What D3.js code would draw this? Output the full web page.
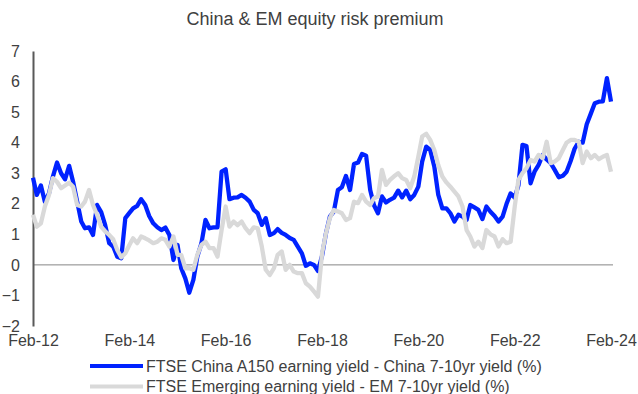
<!DOCTYPE html>
<html>
<head>
<meta charset="utf-8">
<script src="https://cdn.jsdelivr.net/npm/d3@7"></script>
<style>
  html, body { margin: 0; padding: 0; background: #fff; }
  svg { display: block; }
  text { font-family: "Liberation Sans", Arial, sans-serif; }
</style>
</head>
<body>
<svg id="chart" width="638" height="394"></svg>
<script>
// Monthly observations, Feb-2012 through Feb-2024
const startMonth = new Date(2012, 1, 1);

const chinaPremium = [
  2.85, 2.29, 2.6, 2.07, 2.34, 2.89, 3.35, 3.0, 2.8, 3.24,
  2.72, 2.07, 1.42, 1.2, 1.23, 0.98, 1.96, 1.74, 1.31, 0.71,
  0.6, 0.27, 0.22, 1.53, 1.7, 1.85, 1.93, 2.15, 1.96, 1.6,
  1.36, 1.23, 1.14, 1.22, 0.98, 0.16, 0.65, -0.11, -0.44, -0.91,
  -0.49, 0.27, 0.7, 1.47, 1.2, 1.23, 1.23, 3.05, 3.13, 2.15,
  2.2, 2.21, 2.29, 2.2, 2.07, 1.8, 1.69, 1.31, 1.53, 0.98,
  1.04, 1.17, 1.05, 0.98, 0.88, 0.82, 0.6, 0.38, -0.03, 0.05,
  0.0, -0.2, 0.3, 1.0, 1.58, 1.74, 2.45, 2.54, 2.91, 2.45,
  3.3, 3.35, 3.63, 3.57, 2.45, 1.96, 1.69, 2.24, 2.04, 2.13,
  2.2, 2.43, 2.21, 2.43, 2.15, 2.29, 2.56, 3.38, 3.87, 3.76,
  3.22, 2.3, 1.85, 1.85, 1.69, 1.42, 1.64, 1.58, 1.47, 1.96,
  1.88, 1.8, 1.5, 1.91, 1.74, 1.6, 1.42, 1.58, 2.0, 2.34,
  2.2, 2.6, 3.93, 3.89, 2.67, 3.05, 3.27, 3.6, 3.45, 3.33,
  3.11, 2.87, 2.92, 3.05, 3.4, 3.8, 4.03, 4.0, 4.6, 4.95,
  5.29, 5.34, 5.35, 6.11, 5.34
];

const emPremium = [
  1.64, 1.25, 1.36, 1.91, 2.29, 2.84, 2.72, 2.51, 2.6, 2.69,
  2.56, 1.96, 1.91, 2.07, 2.45, 1.96, 1.64, 1.25, 1.1, 0.98,
  0.84, 0.49, 0.25, 0.38, 0.65, 0.87, 0.71, 0.93, 0.87, 0.8,
  0.71, 0.76, 0.87, 0.82, 0.6, 0.93, 0.33, 0.33, -0.11, -0.11,
  -0.16, 0.33, 0.65, 0.76, 0.55, 0.55, 0.27, 1.14, 1.91, 1.25,
  1.42, 1.3, 1.42, 1.2, 1.04, 1.23, 1.2, 0.6, -0.16, -0.33,
  -0.11, 0.33, 0.44, -0.16, 0.0, -0.22, -0.27, -0.27, -0.6, -0.71,
  -0.87, -1.04, 0.38, 1.0, 1.53, 1.8, 1.75, 1.69, 1.47, 1.53,
  2.07, 2.02, 2.29, 2.07, 1.96, 2.18, 2.24, 3.11, 2.62, 2.78,
  2.9, 3.0, 2.84, 2.78, 2.51, 2.89, 3.54, 4.2, 4.29, 4.09,
  3.76, 3.27, 2.89, 2.7, 2.56, 2.4, 2.24, 1.91, 1.14, 0.93,
  0.6, 0.76, 0.55, 1.14, 1.0, 0.93, 0.6, 0.84, 0.71, 0.76,
  1.91, 2.78, 3.0, 3.16, 3.43, 3.38, 3.6, 3.49, 4.03, 3.33,
  3.38, 3.49, 3.76, 4.0, 4.09, 4.09, 4.03, 3.33, 3.71, 3.49,
  3.6, 3.46, 3.54, 3.6, 3.05
];

const yTicks = [-2, -1, 0, 1, 2, 3, 4, 5, 6, 7];
const xTickYears = [2012, 2014, 2016, 2018, 2020, 2022, 2024];

const seriesNames = [
  "FTSE China A150 earning yield - China 7-10yr yield (%)",
  "FTSE Emerging earning yield - EM 7-10yr yield (%)"
];
const seriesColors = ["#0022ff", "#d9d9d9"];

const dates = chinaPremium.map((_, i) => d3.timeMonth.offset(startMonth, i));

const svg = d3.select("#chart");
const margin = { left: 33, right: 25, top: 51, bottom: 68 };
const width = 638, height = 394;

const x = d3.scaleTime()
  .domain([dates[0], dates[dates.length - 1]])
  .range([margin.left, width - margin.right - 2]);

const y = d3.scaleLinear()
  .domain([-2, 7])
  .range([height - margin.bottom, margin.top]);

// Title
svg.append("text")
  .attr("x", 315).attr("y", 25)
  .attr("text-anchor", "middle")
  .attr("font-size", 18)
  .attr("fill", "#404040")
  .text("China & EM equity risk premium");

// Zero reference line
svg.append("line")
  .attr("x1", margin.left).attr("x2", width - margin.right)
  .attr("y1", y(0)).attr("y2", y(0))
  .attr("stroke", "#858585").attr("stroke-width", 1);

// Left value axis
const yAxis = d3.axisLeft(y).tickValues(yTicks).tickSize(0).tickPadding(13)
  .tickFormat(d3.format("d"));
const yG = svg.append("g").attr("transform", `translate(${margin.left},0)`).call(yAxis);
yG.select(".domain").attr("stroke", "#595959").attr("stroke-width", 2);
yG.selectAll("text").attr("font-size", 16).attr("fill", "#404040")
  .style("font-family", "'Liberation Sans', Arial, sans-serif");

// Date axis labels (no axis line)
const xAxis = d3.axisBottom(x)
  .tickValues(xTickYears.map(yr => new Date(yr, 1, 1)))
  .tickSize(0).tickPadding(8)
  .tickFormat(d3.timeFormat("%b-%y"));
const xG = svg.append("g").attr("transform", `translate(0,${height - margin.bottom + 1})`).call(xAxis);
xG.select(".domain").remove();
xG.selectAll("text").attr("font-size", 16).attr("fill", "#404040")
  .style("font-family", "'Liberation Sans', Arial, sans-serif");

// Series lines
const line = d3.line()
  .x((d, i) => x(dates[i]))
  .y(d => y(d));

[chinaPremium, emPremium].forEach((values, k) => {
  svg.append("path")
    .datum(values)
    .attr("fill", "none")
    .attr("stroke", seriesColors[k])
    .attr("stroke-width", 4.3)
    .attr("stroke-linejoin", "round")
    .attr("d", line);
});

// Legend
const legend = svg.append("g");
seriesNames.forEach((name, k) => {
  const ly = 366 + k * 20.5;
  legend.append("line")
    .attr("x1", 90).attr("x2", 143)
    .attr("y1", ly).attr("y2", ly)
    .attr("stroke", seriesColors[k]).attr("stroke-width", 4);
  legend.append("text")
    .attr("x", 146).attr("y", ly + 5.5)
    .attr("font-size", 16).attr("fill", "#404040")
    .text(name);
});
</script>
</body>
</html>
